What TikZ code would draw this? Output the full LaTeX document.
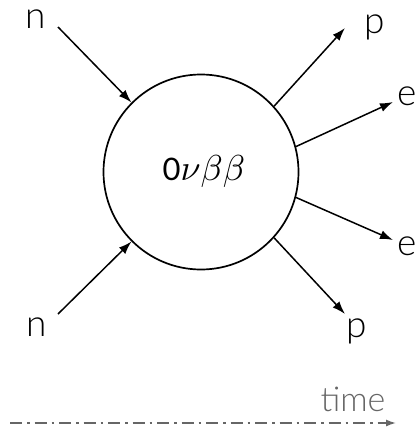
\documentclass[tikz,border=0pt]{standalone}
\usepackage{fontspec}
\setmainfont{Lato Light}
\newfontfamily\regfont{Lato}
\usetikzlibrary{arrows.meta}
\begin{document}
\begin{tikzpicture}[x=1pt,y=-1pt,
  lab/.style={font=\fontsize{37}{38}\selectfont, inner sep=0pt},
  arr/.style={line width=1.5pt, -{Latex[length=13pt,width=9pt]}},
  timecol/.style={color=black!60}]
\useasboundingbox (0,0) rectangle (417,431);
\node[circle, draw, line width=1.7pt, minimum size=195pt, inner sep=0pt] (c) at (201,172) {};
\node[inner sep=0pt, font=\fontsize{31}{32}\selectfont] (lbl) at (204,171) {{\regfont 0}\scalebox{3.6}{\normalsize$\nu\beta\beta$}};
% labels
\node[lab] (n1) at (36,19) {n};
\node[lab] (n2) at (37,327) {n};
\node[lab] (p1) at (375,27) {p};
\node[lab] (p2) at (357,331) {p};
\node[lab] (e1) at (407,96) {e};
\node[lab] (e2) at (407,246) {e};
% coordinates
\coordinate (a1) at (58,27);
\coordinate (a2) at (58,314);
\coordinate (b1) at (345,28);
\coordinate (b2) at (345,314);
\coordinate (d1) at (393,102);
\coordinate (d2) at (393,240);
\draw[arr] (a1) -- (c.135);
\draw[arr] (a2) -- (c.225);
\draw[arr] (c.42) -- (b1);
\draw[arr] (c.-42) -- (b2);
\draw[arr] (c.15) -- (d1);
\draw[arr] (c.-15) -- (d2);
% time
\node[timecol, font=\fontsize{34}{35}\selectfont, inner sep=0pt] (t) at (353,399) {time};
\coordinate (ts) at (10,423);
\coordinate (te) at (396,423);
\draw[timecol, line width=1.4pt, dash pattern=on 12pt off 5pt on 2.5pt off 5pt, -{Latex[length=10pt,width=7pt]}] (ts) -- (te);
\end{tikzpicture}
\end{document}
